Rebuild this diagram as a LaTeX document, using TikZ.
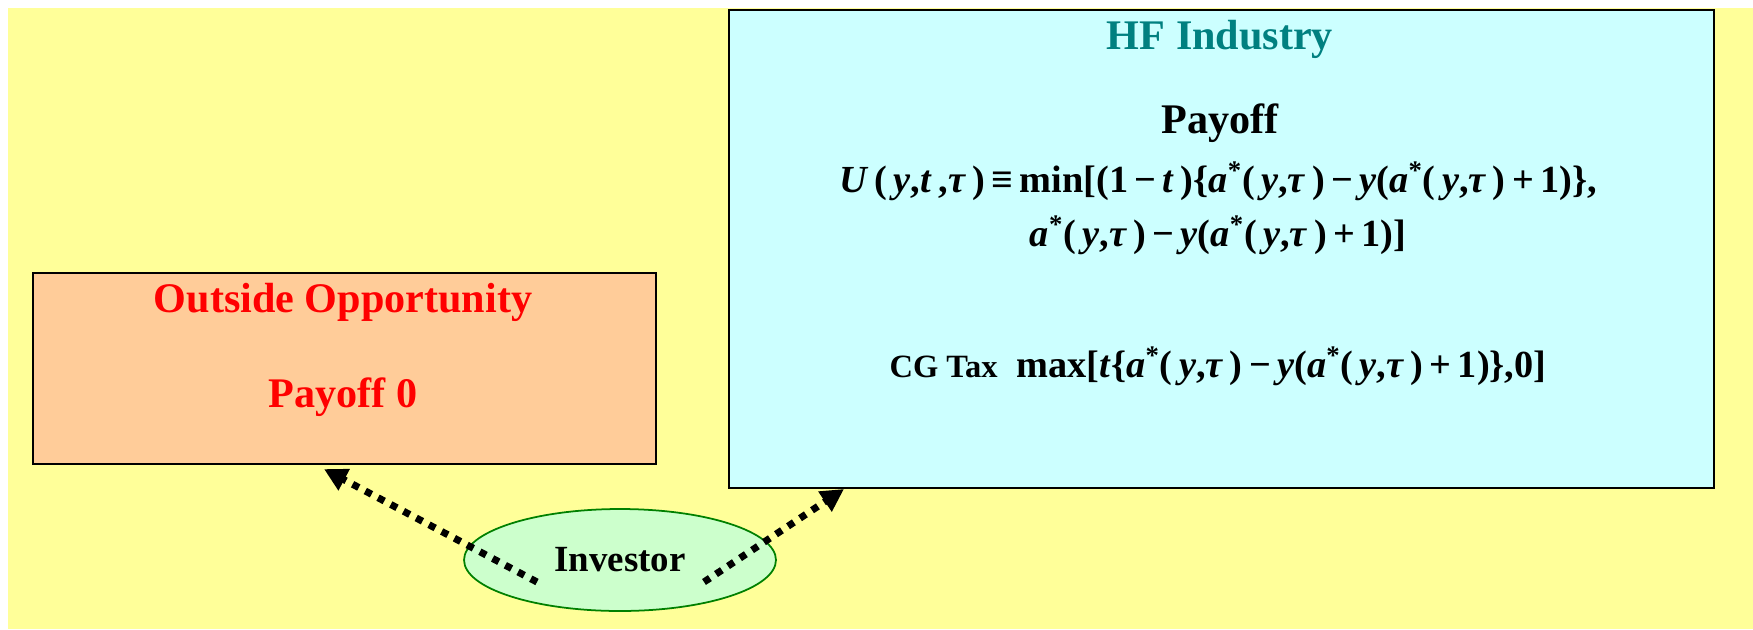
\documentclass[tikz,border=0pt]{standalone}
\usepackage{fontspec}
\setmainfont{Liberation Serif}
\usetikzlibrary{arrows.meta,shapes.geometric,calc}

\definecolor{bgyellow}{HTML}{FFFF99}
\definecolor{hfcyan}{HTML}{CCFFFF}
\definecolor{oppbox}{HTML}{FFCC99}
\definecolor{invgreen}{HTML}{CCFFCC}
\definecolor{invedge}{HTML}{008000}
\definecolor{hfteal}{HTML}{008080}

\newcommand{\vi}[1]{\textit{#1}}
\newcommand{\opt}{\textsuperscript{*}}

\tikzset{
  box/.style={draw=black, line width=1.2pt, inner sep=0pt, anchor=north west},
  title/.style={font=\fontsize{24}{28}\selectfont\bfseries},
  formula/.style={font=\fontsize{21.8}{26}\selectfont\bfseries},
  choice/.style={line width=4pt, dash pattern=on 4pt off 4.2pt, -{Triangle[length=13pt,width=13pt]}},
}

\begin{document}
\begin{tikzpicture}[x=0.02cm, y=-0.02cm]
    \useasboundingbox (0,0) rectangle (1753,629);
    \fill[white] (0,0) rectangle (1753,629);
    \fill[bgyellow] (8,8) rectangle (1753,629);

    % --- HF industry ---
    \node[box, fill=hfcyan, minimum width=19.7cm, minimum height=9.56cm] (hf) at (728,9) {};
    \node[title, text=hfteal] (hftitle) at (1220,39) {HF Industry};
    \node[title] (hfpay) at (1220,123) {Payoff};
    \node[formula] (hfeq1) at (1218,181) {\vi{U}\,(\,\vi{y},\vi{t}\,,\vi{τ}\,)\,≡\,min[(1\,−\,\vi{t}\,)\{\vi{a}\opt(\,\vi{y},\vi{τ}\,)\,−\,\vi{y}(\vi{a}\opt(\,\vi{y},\vi{τ}\,)\,+\,1)\},};
    \node[formula] (hfeq2) at (1218,235) {\vi{a}\opt(\,\vi{y},\vi{τ}\,)\,−\,\vi{y}(\vi{a}\opt(\,\vi{y},\vi{τ}\,)\,+\,1)]};
    \node[formula] (hftax) at (1218,366) {{\fontsize{18.5}{22}\selectfont CG Tax}\ \ max[\vi{t}\{\vi{a}\opt(\,\vi{y},\vi{τ}\,)\,−\,\vi{y}(\vi{a}\opt(\,\vi{y},\vi{τ}\,)\,+\,1)\},0]};

    % --- outside opportunity ---
    \node[box, fill=oppbox, minimum width=12.46cm, minimum height=3.82cm] (opp) at (32,272) {};
    \node[title, text=red] (opptitle) at (343,302) {Outside Opportunity};
    \node[title, text=red] (opppay) at (343,397) {Payoff 0};

    % --- investor ---
    \node[ellipse, draw=invedge, line width=1pt, fill=invgreen, minimum width=6.24cm, minimum height=2.04cm,
          font=\fontsize{21}{25}\selectfont\bfseries] (inv) at (620,560) {Investor};
    \coordinate (invl) at (537,582);
    \coordinate (invr) at (704,582);
    \draw[choice] (invl) -- ($(opp.south west)+(292,4)$);
    \draw[choice] (invr) -- ($(hf.south west)+(116,0)$);
\end{tikzpicture}
\end{document}
